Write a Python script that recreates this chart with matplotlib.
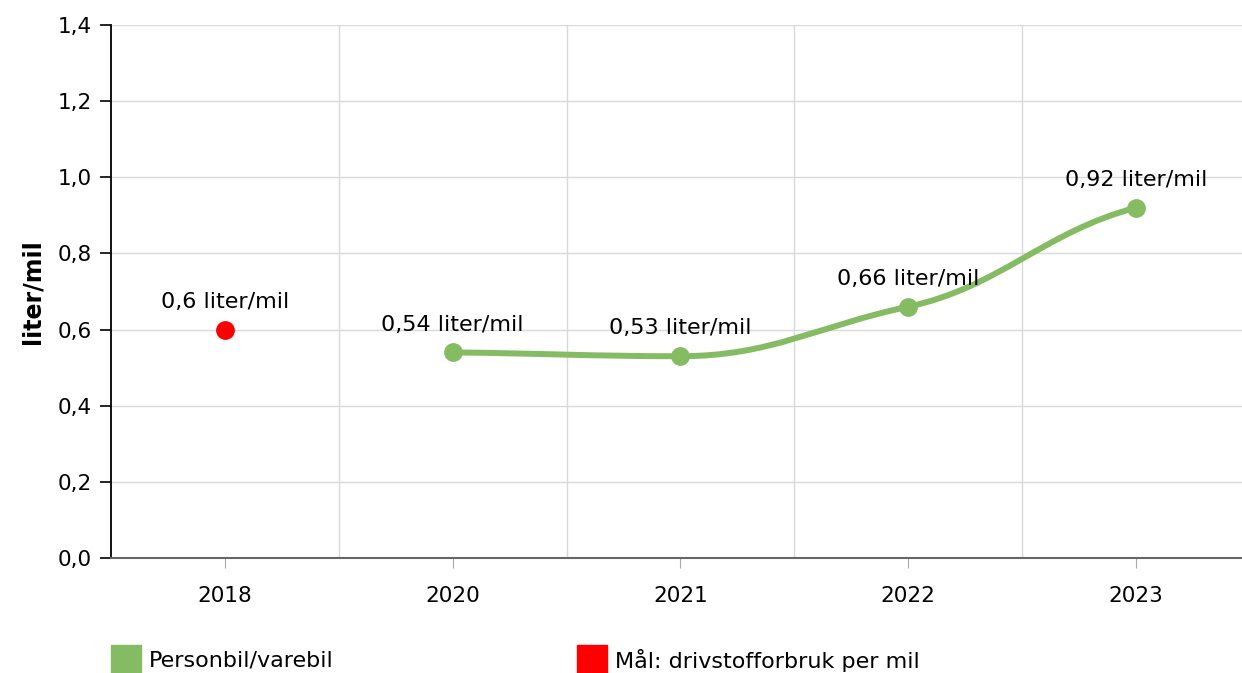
import numpy as np
import matplotlib.pyplot as plt
from matplotlib.path import Path
from matplotlib.patches import PathPatch, Rectangle

categories = ['2018', '2020', '2021', '2022', '2023']
personbil = [None, 0.54, 0.53, 0.66, 0.92]
maal = [0.6, None, None, None, None]
series_names = ['Personbil/varebil', 'Mål: drivstofforbruk per mil']

GREEN = '#85bb62'
RED = '#ff0000'


def fmt(v):
    return ('%g' % v).replace('.', ',') + ' liter/mil'


def smooth_path(xs, ys, k=0.65, a=0.4):
    # cubic bezier through the points, damped tangents, flat at extrema
    n = len(xs)
    m = []
    for i in range(n):
        if i == 0:
            m.append(0.6 * (ys[1] - ys[0]) / (xs[1] - xs[0]))
        elif i == n - 1:
            m.append(0.6 * (ys[i] - ys[i - 1]) / (xs[i] - xs[i - 1]))
        elif (ys[i] - ys[i - 1]) * (ys[i + 1] - ys[i]) <= 0:
            m.append(0.0)
        else:
            m.append(k * (ys[i + 1] - ys[i - 1]) / (xs[i + 1] - xs[i - 1]))
    verts = [(xs[0], ys[0])]
    codes = [Path.MOVETO]
    for i in range(1, n):
        h = xs[i] - xs[i - 1]
        verts += [(xs[i - 1] + a * h, ys[i - 1] + a * h * m[i - 1]),
                  (xs[i] - a * h, ys[i] - a * h * m[i]),
                  (xs[i], ys[i])]
        codes += [Path.CURVE4] * 3
    return Path(verts, codes)


plt.rcParams['font.family'] = ['DejaVu Sans']
fig = plt.figure(figsize=(12.42, 6.73), dpi=100)
ax = fig.add_axes([111 / 1242, 115 / 673, 1 - 111 / 1242, 533 / 673])

x = np.arange(len(categories))
gx = [i for i, v in enumerate(personbil) if v is not None]
gy = [v for v in personbil if v is not None]
ax.add_patch(PathPatch(smooth_path(gx, gy), fill=False, edgecolor=GREEN,
                       lw=4.3, capstyle='round', zorder=3))
ax.plot(gx, gy, 'o', color=GREEN, ms=12.5, zorder=4)
rx = [i for i, v in enumerate(maal) if v is not None]
ry = [v for v in maal if v is not None]
ax.plot(rx, ry, 'o', color=RED, ms=12.5, zorder=4)

for xi, yi in list(zip(gx, gy)) + list(zip(rx, ry)):
    ax.annotate(fmt(yi), (xi, yi), xytext=(0, 20), textcoords='offset points',
                ha='center', va='center', fontsize=16, color='black')

ax.set_xlim(-0.5, (1242 - 226) / 227.5)
ax.set_ylim(0, 1.4)
yt = np.arange(0, 1.41, 0.2)
ax.set_yticks(yt)
ax.set_yticklabels([('%.1f' % v).replace('.', ',') for v in yt])
ax.set_xticks(x)
ax.set_xticklabels(categories)
ax.set_xticks(np.arange(0.5, len(categories) - 0.5, 1), minor=True)
ax.grid(axis='y', color='#d9d9d9', lw=1)
ax.grid(axis='x', which='minor', color='#d9d9d9', lw=1)
ax.set_axisbelow(True)
ax.tick_params(axis='x', which='major', length=7, color='#aaaaaa', labelsize=15.5, pad=13)
ax.tick_params(axis='x', which='minor', length=0)
ax.tick_params(axis='y', length=8, width=1.2, color='black', labelsize=15.5, pad=6)
for s in ['top', 'right']:
    ax.spines[s].set_visible(False)
ax.spines['left'].set_color('black')
ax.spines['left'].set_linewidth(1.3)
ax.spines['bottom'].set_color('#666666')
ax.spines['bottom'].set_linewidth(1.5)
ax.set_ylabel('liter/mil', fontsize=17, fontweight='bold', labelpad=9)

# legend
for (lx, col, name) in [(111, GREEN, series_names[0]), (577, RED, series_names[1])]:
    fig.add_artist(Rectangle((lx / 1242, 0), 30 / 1242, 28 / 673,
                             transform=fig.transFigure, color=col))
    fig.text((lx + 38) / 1242, 12 / 673, name, fontsize=16, va='center', ha='left')

fig.savefig('out.png', dpi=100)
